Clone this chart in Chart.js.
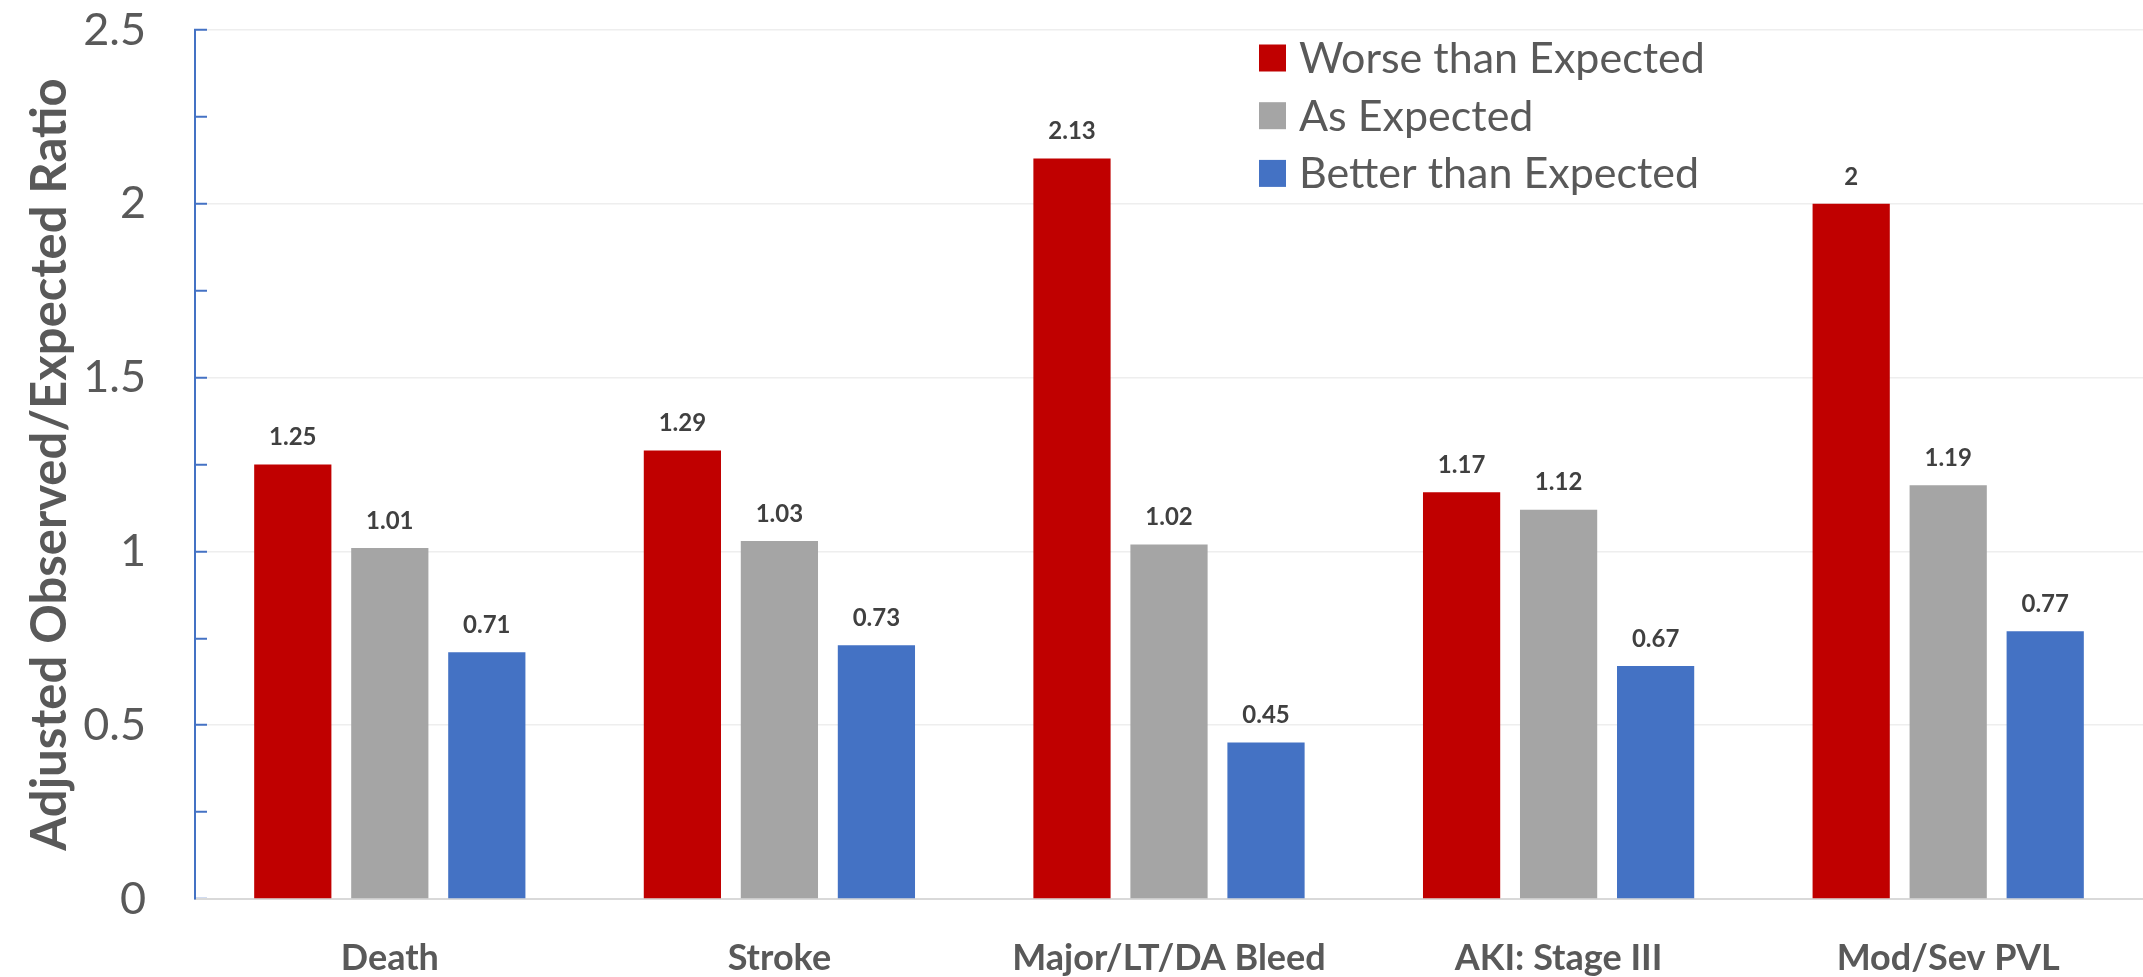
<!DOCTYPE html>
<html>
<head>
<meta charset="utf-8">
<script src="https://cdn.jsdelivr.net/npm/chart.js@4.4.1/dist/chart.umd.min.js"></script>
<style>
  html, body { margin: 0; padding: 0; background: #fff; }
  canvas { display: block; }
</style>
</head>
<body>
<canvas id="chart" width="2143" height="977"></canvas>
<script>
const categories = ["Death", "Stroke", "Major/LT/DA Bleed", "AKI: Stage III", "Mod/Sev PVL"];
const worse = [1.25, 1.29, 2.13, 1.17, 2.00];
const asExpected = [1.01, 1.03, 1.02, 1.12, 1.19];
const better = [0.71, 0.73, 0.45, 0.67, 0.77];
const seriesNames = ["Worse than Expected", "As Expected", "Better than Expected"];
const yTicks = [0, 0.5, 1, 1.5, 2, 2.5];

const TEXT = "#595959";
const FONT = "Lato";

// numbers above each bar
const valueLabels = {
  id: "valueLabels",
  afterDatasetsDraw(chart) {
    const ctx = chart.ctx;
    ctx.save();
    ctx.font = `bold 24px ${FONT}`;
    ctx.fillStyle = "#404040";
    ctx.textAlign = "center";
    ctx.textBaseline = "middle";
    chart.data.datasets.forEach((ds, i) => {
      chart.getDatasetMeta(i).data.forEach((bar, j) => {
        ctx.fillText(String(ds.data[j]), bar.x, bar.y - 27);
      });
    });
    ctx.restore();
  }
};

// legend boxes stacked in the upper right of the plot
const boxLegend = {
  id: "boxLegend",
  afterDraw(chart) {
    const ctx = chart.ctx;
    ctx.save();
    ctx.font = `43px ${FONT}`;
    ctx.textBaseline = "middle";
    chart.data.datasets.forEach((ds, i) => {
      const y = 58 + i * 57.7;
      ctx.fillStyle = ds.backgroundColor;
      ctx.fillRect(1259, y - 13.5, 27, 27);
      ctx.fillStyle = TEXT;
      ctx.fillText(ds.label, 1299, y + 1);
    });
    ctx.restore();
  }
};

const isMajor = v => yTicks.some(t => Math.abs(t - v) < 1e-9);

function draw() {
  new Chart(document.getElementById("chart"), {
    type: "bar",
    data: {
      labels: categories,
      datasets: [
        { label: seriesNames[0], data: worse, backgroundColor: "#C00000" },
        { label: seriesNames[1], data: asExpected, backgroundColor: "#A5A5A5" },
        { label: seriesNames[2], data: better, backgroundColor: "#4472C4" }
      ]
    },
    options: {
      responsive: false,
      animation: false,
      categoryPercentage: 0.747,
      barPercentage: 0.796,
      layout: { padding: { top: 30, left: 0, right: 0, bottom: 0 } },
      plugins: { legend: { display: false }, tooltip: { enabled: false } },
      scales: {
        x: {
          grid: { display: false, drawTicks: false },
          border: { display: true, color: "#D9D9D9", width: 2 },
          ticks: {
            color: TEXT,
            font: { family: FONT, size: 36, weight: "bold" },
            padding: 38,
            maxRotation: 0,
            autoSkip: false
          },
          afterFit(s) { s.height = 78; }
        },
        y: {
          min: 0,
          max: 2.5,
          ticks: {
            stepSize: 0.25,
            autoSkip: false,
            padding: 61,
            color: TEXT,
            font: { family: FONT, size: 45 },
            callback: v => (isMajor(v) ? v : "")
          },
          grid: {
            color: c => (c.tick && isMajor(c.tick.value) ? "#EEEEEE" : "rgba(0,0,0,0)"),
            lineWidth: 1.5,
            tickLength: -12,
            tickColor: "#4472C4",
            tickWidth: 2
          },
          border: { color: "#4472C4", width: 2 },
          title: {
            display: true,
            text: "Adjusted Observed/Expected Ratio",
            color: TEXT,
            font: { family: FONT, size: 49, weight: "bold" },
            padding: { top: 21, bottom: 0 }
          },
          afterFit(s) {
            s.width = 195;
            // keep the plot top/bottom where the layout padding puts it
            s.paddingTop = 0;
            s.paddingBottom = 0;
          }
        }
      }
    },
    plugins: [valueLabels, boxLegend]
  });
}

Promise.all([
  document.fonts.load(`45px ${FONT}`),
  document.fonts.load(`bold 36px ${FONT}`)
]).then(draw, draw);
</script>
</body>
</html>
